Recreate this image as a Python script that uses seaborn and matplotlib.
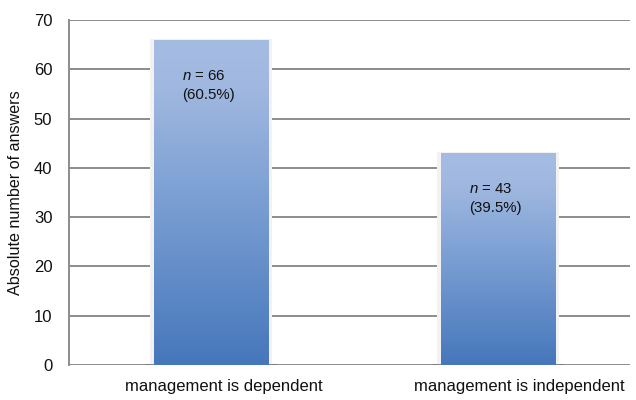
import numpy as np
import pandas as pd
import matplotlib
matplotlib.use("Agg")
import matplotlib.pyplot as plt
import matplotlib.transforms as mtransforms
import seaborn as sns
from matplotlib.colors import LinearSegmentedColormap

categories = ["management is dependent", "management is independent"]
answers = [66, 43]
shares = [60.5, 39.5]
y_ticks = [0, 10, 20, 30, 40, 50, 60, 70]

df = pd.DataFrame({"category": categories, "answers": answers})

sns.set_theme(style="white")
plt.rcParams["font.family"] = ["Liberation Sans", "DejaVu Sans"]
plt.rcParams["mathtext.fontset"] = "custom"
plt.rcParams["mathtext.it"] = "Liberation Sans:italic"
plt.rcParams["mathtext.rm"] = "Liberation Sans"

fig = plt.figure(figsize=(6.36, 4.0), dpi=100)
ax = fig.add_axes([69 / 636, 35 / 400, (630 - 69) / 636, 345 / 400])

grid_color = "#8c8c8c"
bar_w = 0.4
sns.barplot(data=df, x="category", y="answers", ax=ax, width=bar_w,
            color="#4a7bc0", edgecolor="none", zorder=3)

for t in y_ticks:
    ax.axhline(t, color=grid_color, lw=1.4, zorder=1)

# vertical gradient fill for each bar, with a faint halo behind it
cmap = LinearSegmentedColormap.from_list(
    "bar", [(0.0, "#4677bb"), (0.55, "#7fa2d5"), (0.85, "#a0b8e0"), (1.0, "#a5bce2")])
grad = np.linspace(0, 1, 256).reshape(-1, 1)
for patch in ax.patches:
    x0, y0 = patch.get_x(), patch.get_y()
    w, h = patch.get_width(), patch.get_height()
    ax.add_patch(plt.Rectangle((x0 - 0.014, y0), w + 0.028, h + 0.15,
                               color="#f2f2f2", lw=0, zorder=2))
    ax.plot([x0 - 0.03, x0 + w + 0.03], [0, 0], color="#7a7a7a", lw=2.0,
            solid_capstyle="butt", zorder=2.5)
    im = ax.imshow(grad, cmap=cmap, aspect="auto", origin="lower",
                   extent=(x0, x0 + w, y0, y0 + h), zorder=4)
    im.set_clip_path(patch)
ax.set_xlim(-0.495, 1.46)
ax.set_ylim(0, 70)
ax.set_yticks(y_ticks)

# count and share labels inside the bars
for i, (v, p) in enumerate(zip(answers, shares)):
    ax.text(i - 0.1, v - 5.9, f"$\\it{{n}}$ = {v}\n({p:.1f}%)",
            ha="left", va="top", fontsize=10.8, color="#111111",
            linespacing=1.45, zorder=5)

for s in ["top", "right", "bottom"]:
    ax.spines[s].set_visible(False)
ax.spines["left"].set_color(grid_color)
ax.spines["left"].set_linewidth(1.4)
ax.tick_params(axis="y", length=0, pad=12, labelsize=12, colors="#111111")
ax.tick_params(axis="x", length=0, pad=10, labelsize=12, colors="#111111")
ax.set_xlabel("")
ax.set_ylabel("Absolute number of answers", fontsize=11.6, color="#111111", labelpad=8)

# category labels sit a little right of the bar centres
for lbl, dx in zip(ax.get_xticklabels(), [13, 21]):
    lbl.set_transform(lbl.get_transform() +
                      mtransforms.ScaledTranslation(dx / 100, 0, fig.dpi_scale_trans))

fig.savefig("out.png", dpi=100)
